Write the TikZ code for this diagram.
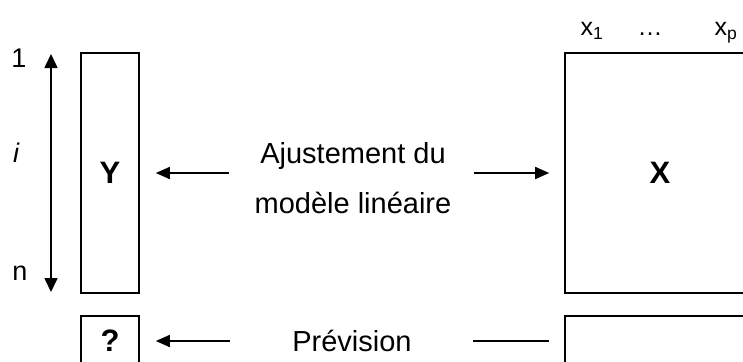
\documentclass[tikz,border=0pt]{standalone}
\usepackage{fontspec}
\setmainfont{Liberation Sans}
\usetikzlibrary{arrows.meta}
\begin{document}
\begin{tikzpicture}[x=1pt,y=-1pt,
  box/.style={draw,line width=1.6pt,inner sep=0pt},
  lbl/.style={font=\fontsize{29}{50}\selectfont,inner sep=0pt},
  big/.style={font=\fontsize{31}{36}\selectfont\bfseries,inner sep=0pt},
  small/.style={font=\fontsize{27}{32}\selectfont,inner sep=0pt},
  col/.style={font=\fontsize{25}{30}\selectfont,inner sep=0pt,anchor=base},
  arr/.style={line width=1.6pt,-{Triangle[length=14pt,width=12pt]}},
  plain/.style={line width=1.6pt}]
\useasboundingbox (0,0) rectangle (743,361);
\clip (0,0) rectangle (743,361);
% boxes
\node[box,minimum width=58pt,minimum height=240pt] (Y) at (110,173) {};
\node[big] (Yl) at (Y) {Y};
\node[box,minimum width=58pt,minimum height=50pt] (Q) at (110,341) {};
\node[big] (Ql) at (Q) {?};
\node[box,minimum width=190pt,minimum height=240pt] (X) at (660,173) {};
\node[big] (Xl) at (X) {X};
\node[box,minimum width=190pt,minimum height=50pt] (P) at (660,341) {};
% texts
\node[lbl,align=center] (aj) at (353,178) {Ajustement du\\modèle linéaire};
\node[lbl] (pr) at (352,341) {Prévision};
% connectors
\draw[arr,shorten <=25pt,shorten >=16pt] (Y.east -| aj.west) -- (Y.east);
\draw[arr,shorten <=22pt,shorten >=15pt] (X.west -| aj.east) -- (X.west);
\draw[arr,shorten <=62pt,shorten >=16pt] (pr.west) -- (Q.east);
\draw[plain,shorten <=61pt,shorten >=15pt] (pr.east) -- (P.west);
% row index arrow
\coordinate (t) at (51,54);
\coordinate (b) at (51,292);
\draw[line width=1.6pt,{Triangle[length=14pt,width=13pt]}-{Triangle[length=14pt,width=13pt]}] (t) -- (b);
\node[small] (one) at (19,58) {1};
\node[small] (ii) at (16,153) {\itshape i};
\node[small] (nn) at (20,273) {n};
% column labels
\node[col] (x1) at (592,36) {x\textsubscript{1}};
\node[col] (dots) at (650,36) {…};
\node[col] (xp) at (726,36) {x\textsubscript{p}};
\end{tikzpicture}
\end{document}
